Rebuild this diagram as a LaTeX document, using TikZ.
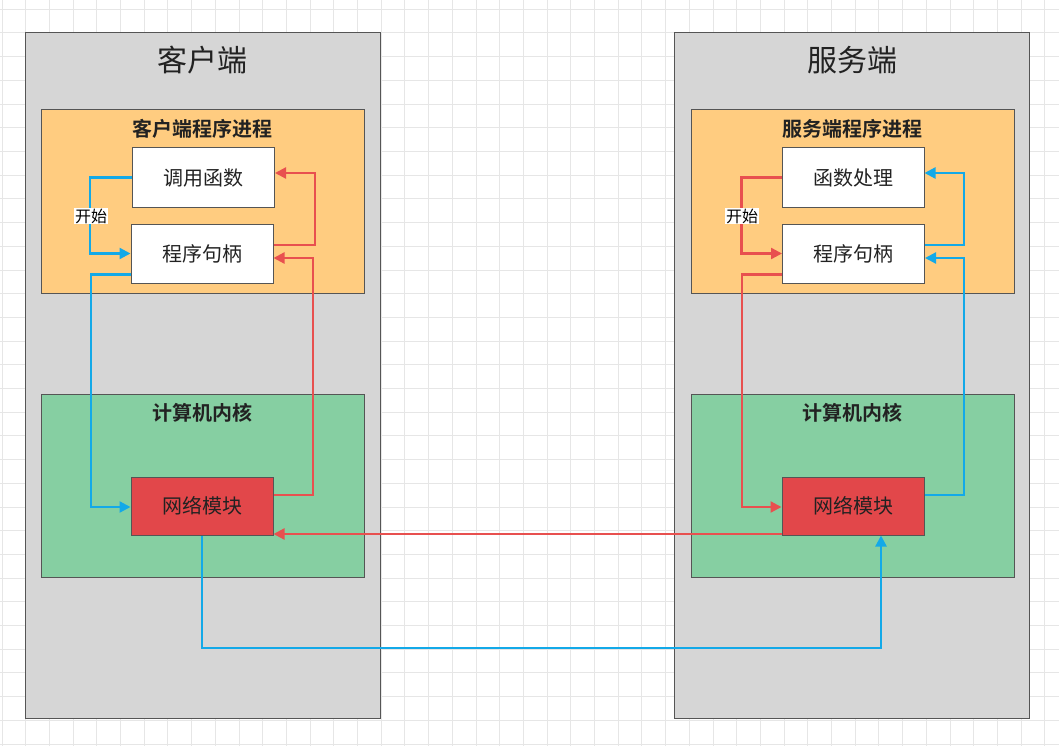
\documentclass[tikz,border=0pt]{standalone}
\usepackage{fontspec}
\newfontfamily\cjk{Noto Sans CJK SC}[BoldFont={Noto Sans CJK SC Bold}]
\usetikzlibrary{arrows.meta,calc}
\definecolor{gridc}{HTML}{E6E6E6}
\definecolor{panel}{HTML}{D6D6D6}
\definecolor{procfill}{HTML}{FFCC80}
\definecolor{kernfill}{HTML}{86CFA2}
\definecolor{netfill}{HTML}{E2474A}
\definecolor{redl}{HTML}{E8504F}
\definecolor{bluel}{HTML}{13A9E8}
\definecolor{edgec}{HTML}{555555}
\definecolor{txt}{HTML}{222222}
\tikzset{
  panelbox/.style={draw=edgec, line width=1pt, fill=panel, minimum width=355pt, minimum height=685pt, inner sep=0pt},
  procbox/.style={draw=edgec, line width=1pt, fill=procfill, minimum width=323pt, minimum height=183pt, inner sep=0pt},
  kernbox/.style={draw=edgec, line width=1pt, fill=kernfill, minimum width=323pt, minimum height=183pt, inner sep=0pt},
  whitebox/.style={draw=edgec, line width=1pt, fill=white, minimum width=142pt, minimum height=59pt, inner sep=0pt, text=txt, font=\cjk\fontsize{20}{22}\selectfont},
  netbox/.style={draw=edgec, line width=1pt, fill=netfill, minimum width=142pt, minimum height=58pt, inner sep=0pt, text=txt, font=\cjk\fontsize{20}{22}\selectfont},
  bigtitle/.style={text=txt, font=\cjk\fontsize{30}{34}\selectfont, inner sep=0pt},
  boxtitle/.style={text=txt, font=\cjk\bfseries\fontsize{20}{22}\selectfont, inner sep=0pt},
  startlbl/.style={fill=white, text=black, font=\cjk\fontsize{16}{18}\selectfont, inner sep=1pt},
  redarrow/.style={draw=redl, line width=2.3pt, -{Triangle[length=11pt,width=11pt]}},
  bluearrow/.style={draw=bluel, line width=2.3pt, -{Triangle[length=11pt,width=11pt]}},
}
\begin{document}
\begin{tikzpicture}[x=1pt,y=-1pt]
\useasboundingbox (0,0) rectangle (1059,746);
\fill[white] (0,0) rectangle (1059,746);
% grid
\foreach \i in {0,...,44} {\draw[gridc, line width=1pt] ({2+23.7*\i},0) -- ({2+23.7*\i},746);}
\foreach \j in {0,...,31} {\draw[gridc, line width=1pt] (0,{9.3+23.7*\j}) -- (1059,{9.3+23.7*\j});}

% panels
\node[panelbox] (clientP) at (202.5,375.5) {};
\node[panelbox] (serverP) at (852,375.5) {};
\node[bigtitle] (clientT) at (202.5,60) {客户端};
\node[bigtitle] (serverT) at (852,60) {服务端};

% process boxes
\node[procbox] (clientProc) at (202.5,201.5) {};
\node[procbox] (serverProc) at (852.5,201.5) {};
\node[boxtitle] (clientProcT) at (202.5,129) {客户端程序进程};
\node[boxtitle] (serverProcT) at (852.5,129) {服务端程序进程};

% kernel boxes
\node[kernbox] (clientKern) at (202.5,485.5) {};
\node[kernbox] (serverKern) at (852.5,485.5) {};
\node[boxtitle] (clientKernT) at (202.5,413) {计算机内核};
\node[boxtitle] (serverKernT) at (852.5,413) {计算机内核};

% inner boxes
\node[whitebox] (callL) at (203.5,177.5) {调用函数};
\node[whitebox] (handleL) at (202,253.5) {程序句柄};
\node[netbox] (netL) at (202,506) {网络模块};
\node[whitebox] (funcR) at (853,177.5) {函数处理};
\node[whitebox] (handleR) at (853.5,253.5) {程序句柄};
\node[netbox] (netR) at (853,506) {网络模块};

% client side arrows
\draw[bluearrow] (callL.west) -- ++(-42,0) coordinate (cbend) |- (handleL.west);
\node[startlbl] (startL) at (91,216) {开始};
\draw[bluearrow] ($(handleL.south west)+(0,-9)$) -| (91,507) coordinate (cb2) -- (cb2 -| netL.west);
\draw[redarrow] ($(handleL.east)+(0,-8.5)$) -| (315,173) coordinate (cr1) -- (cr1 -| callL.east);
\draw[redarrow] ($(netL.east)+(0,-11)$) -| (313,258) coordinate (cr2) -- (cr2 -| handleL.east);

% server side arrows
\draw[redarrow] (funcR.west) -- ++(-40,0) |- (handleR.west);
\node[startlbl] (startR) at (742,216) {开始};
\draw[redarrow] ($(handleR.south west)+(0,-9)$) -| (742,507) coordinate (sr2) -- (sr2 -| netR.west);
\draw[bluearrow] ($(handleR.east)+(0,-8.5)$) -| (964,173) coordinate (sb1) -- (sb1 -| funcR.east);
\draw[bluearrow] ($(netR.east)+(0,-11)$) -| (964,258) coordinate (sb2) -- (sb2 -| handleR.east);

% cross links
\draw[redarrow] ($(netR.south west)+(0,-1.5)$) coordinate (x1) -- (x1 -| netL.east);
\draw[bluearrow] (netL.south) |- (881,648) coordinate (x2) -- (x2 |- netR.south);
\end{tikzpicture}
\end{document}
